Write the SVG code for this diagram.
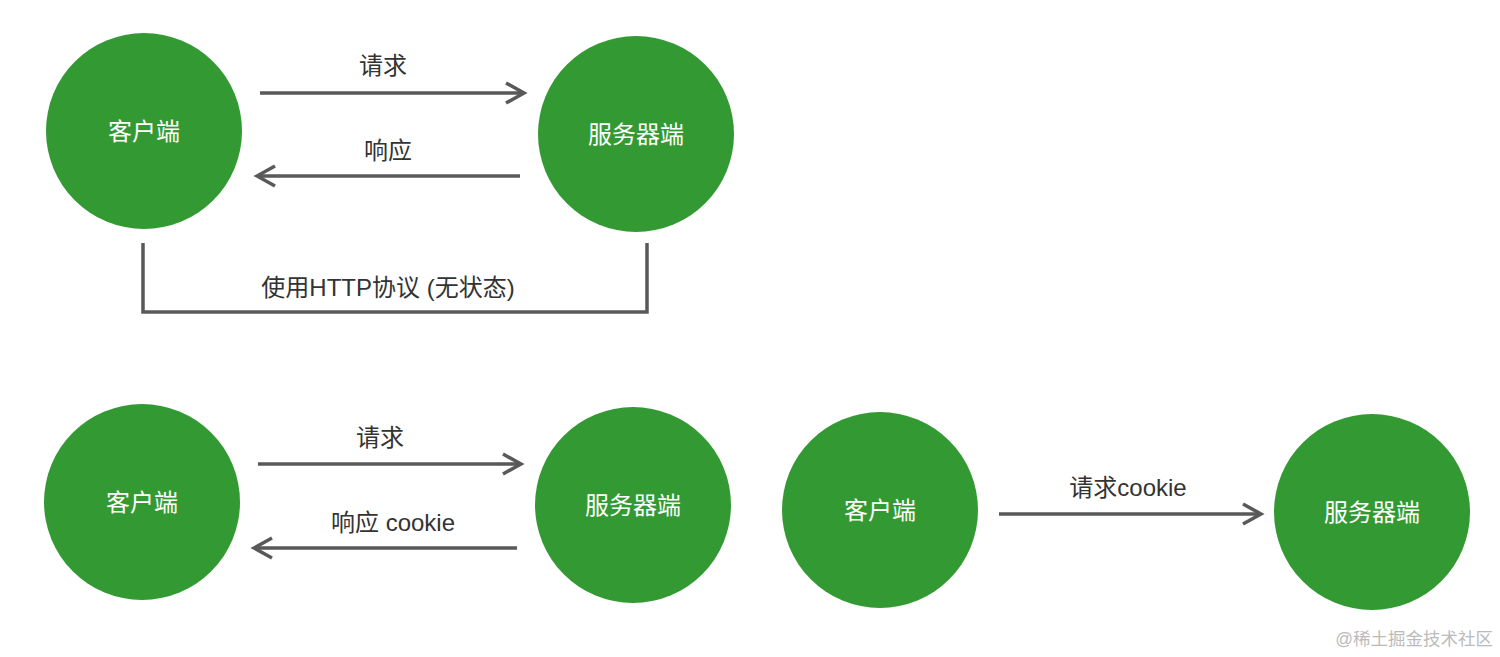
<svg xmlns="http://www.w3.org/2000/svg" width="1500" height="657" viewBox="0 0 1500 657">
<style>
.node{fill:#339a33}
.nt{fill:#fff;font-family:"Liberation Sans","Noto Sans CJK SC",sans-serif;font-size:24px;text-anchor:middle;dominant-baseline:central}
.lbl{fill:#333;font-family:"Liberation Sans","Noto Sans CJK SC",sans-serif;font-size:24px;text-anchor:middle}
.ln{stroke:#595959;stroke-width:3.5;fill:none}
.wm{fill:#bbb;font-family:"Liberation Sans","Noto Sans CJK SC",sans-serif;font-size:17.5px;text-anchor:end}
</style>
<defs>
<marker id="ah" markerUnits="userSpaceOnUse" viewBox="-20 -12 24 24" refX="0" refY="0" markerWidth="24" markerHeight="24" orient="auto">
<polyline points="-18,-10 0,0 -18,10" fill="none" stroke="#595959" stroke-width="3.5" stroke-linejoin="miter"/>
</marker>
</defs>
<rect width="1500" height="657" fill="#fff"/>
<g id="connectors">
<line class="ln" x1="260" y1="93" x2="524" y2="93" marker-end="url(#ah)"/>
<line class="ln" x1="520" y1="176" x2="257" y2="176" marker-end="url(#ah)"/>
<polyline class="ln" points="143,243 143,312 647,312 647,243"/>
<line class="ln" x1="258" y1="464" x2="521" y2="464" marker-end="url(#ah)"/>
<line class="ln" x1="517" y1="548" x2="254" y2="548" marker-end="url(#ah)"/>
<line class="ln" x1="999" y1="514" x2="1261" y2="514" marker-end="url(#ah)"/>
<text class="lbl" x="383" y="74">请求</text>
<text class="lbl" x="388" y="159">响应</text>
<text class="lbl" x="388" y="296">使用HTTP协议 (无状态)</text>
<text class="lbl" x="380" y="446">请求</text>
<text class="lbl" x="393" y="531">响应 cookie</text>
<text class="lbl" x="1128" y="496">请求cookie</text>
</g>
<g id="client1"><circle class="node" cx="144" cy="131" r="98"/><text class="nt" x="144" y="131">客户端</text></g>
<g id="server1"><circle class="node" cx="636" cy="134" r="98"/><text class="nt" x="636" y="134">服务器端</text></g>
<g id="client2"><circle class="node" cx="142" cy="502" r="98"/><text class="nt" x="142" y="502">客户端</text></g>
<g id="server2"><circle class="node" cx="633" cy="505" r="98"/><text class="nt" x="633" y="505">服务器端</text></g>
<g id="client3"><circle class="node" cx="880" cy="510" r="98"/><text class="nt" x="880" y="510">客户端</text></g>
<g id="server3"><circle class="node" cx="1372" cy="512" r="98"/><text class="nt" x="1372" y="512">服务器端</text></g>
<text class="wm" x="1493" y="645">@稀土掘金技术社区</text>
</svg>
